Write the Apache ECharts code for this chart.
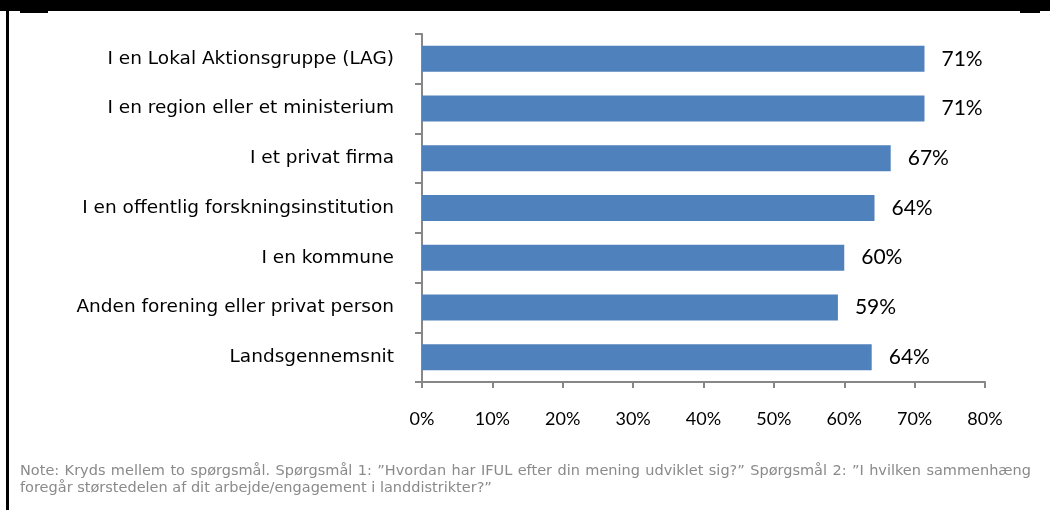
<!DOCTYPE html>
<html>
<head>
<meta charset="utf-8">
<script src="https://cdn.jsdelivr.net/npm/echarts@6/dist/echarts.min.js"></script>
<style>
html,body{margin:0;padding:0;background:#fff;}
#c{width:1050px;height:510px;}
</style>
</head>
<body>
<div id="c"></div>
<script>
const categories = [
  "I en Lokal Aktionsgruppe (LAG)",
  "I en region eller et ministerium",
  "I et privat firma",
  "I en offentlig forskningsinstitution",
  "I en kommune",
  "Anden forening eller privat person",
  "Landsgennemsnit"
];
const values = [71.4, 71.4, 66.6, 64.3, 60.0, 59.1, 63.9];
const xTicks = [0, 10, 20, 30, 40, 50, 60, 70, 80];
const noteLine1 = 'Note: Kryds mellem to spørgsmål. Spørgsmål 1: ”Hvordan har IFUL efter din mening udviklet sig?” Spørgsmål 2: ”I hvilken sammenhæng';
const noteLine2 = 'foregår størstedelen af dit arbejde/engagement i landdistrikter?”';

const chart = echarts.init(document.getElementById('c'), null, {renderer: 'canvas'});

const noteFont = '14.5px "DejaVu Sans"';
const noteColor = '#8a8a8a';
// justify first line of the note
const cv = document.createElement('canvas').getContext('2d');
cv.font = noteFont;
const words = noteLine1.split(' ');
const lineLeft = 20, lineRight = 1031;
const widths = words.map(w => cv.measureText(w).width);
const total = widths.reduce((a, b) => a + b, 0);
const gap = (lineRight - lineLeft - total) / (words.length - 1);
const graphics = [
  {type: 'rect', shape: {x: 0, y: 0, width: 1050, height: 11}, style: {fill: '#000'}},
  {type: 'rect', shape: {x: 6, y: 0, width: 3, height: 510}, style: {fill: '#000'}},
  {type: 'rect', shape: {x: 20, y: 11, width: 28, height: 2}, style: {fill: '#000'}},
  {type: 'rect', shape: {x: 1020, y: 11, width: 20, height: 2}, style: {fill: '#000'}}
];
let xPos = lineLeft;
words.forEach((w, i) => {
  graphics.push({type: 'text', left: xPos, top: 464,
    style: {text: w, font: noteFont, fill: noteColor}});
  xPos += widths[i] + gap;
});
graphics.push({type: 'text', left: lineLeft, top: 481,
  style: {text: noteLine2, font: noteFont, fill: noteColor}});

chart.setOption({
  animation: false,
  grid: {left: 422, right: 65, top: 34, bottom: 128},
  xAxis: {
    type: 'value', min: xTicks[0], max: xTicks[xTicks.length - 1], interval: 10,
    splitLine: {show: false},
    axisLine: {show: true, lineStyle: {color: '#878787', width: 2}},
    axisTick: {show: true, length: 6, lineStyle: {color: '#878787', width: 2}},
    axisLabel: {formatter: '{value}%', margin: 28, color: '#000', fontSize: 18, fontFamily: 'Lato'}
  },
  yAxis: {
    type: 'category', data: categories, inverse: true,
    axisLine: {show: true, lineStyle: {color: '#878787', width: 2}},
    axisTick: {show: true, length: 7, lineStyle: {color: '#878787', width: 2}},
    axisLabel: {margin: 28, color: '#000', fontSize: 18.5, fontFamily: 'DejaVu Sans'}
  },
  series: [{
    type: 'bar', data: values, barWidth: 26,
    itemStyle: {color: '#4F81BD'},
    label: {show: true, position: 'right', distance: 17, color: '#000', fontSize: 21, fontFamily: 'Lato',
      formatter: p => Math.round(p.value) + '%'}
  }],
  graphic: graphics
});
</script>
</body>
</html>
